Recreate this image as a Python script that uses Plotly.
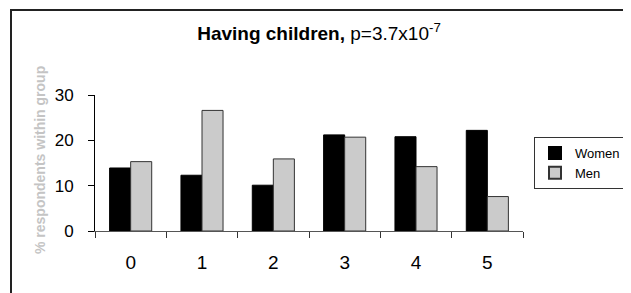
import plotly.graph_objects as go

categories = ["0", "1", "2", "3", "4", "5"]
women = [13.9, 12.3, 10.1, 21.2, 20.8, 22.2]
men = [15.3, 26.6, 15.9, 20.7, 14.2, 7.6]
y_ticks = [0, 10, 20, 30]

OFF = 8  # default page margin of the html body
W, H = 631 - OFF, 293 - OFF
L, T = 95 - OFF, 95 - OFF
R = W - (523 - OFF)
B = H - (231 - OFF)
pw, ph = W - L - R, H - T - B

def px_x(px):
    return (px - OFF - L) / pw

def px_y(py):
    return (H - B - (py - OFF)) / ph

fig = go.Figure()
fig.add_trace(go.Bar(x=categories, y=women, name="Women",
                     marker=dict(color="#000000", line=dict(color="#000000", width=1))))
fig.add_trace(go.Bar(x=categories, y=men, name="Men",
                     marker=dict(color="#cbcbcb", line=dict(color="#333333", width=1))))

fig.update_layout(
    width=W, height=H,
    margin=dict(l=L, r=R, t=T, b=B, autoexpand=False),
    paper_bgcolor="white", plot_bgcolor="white",
    barmode="group", bargap=0.41, bargroupgap=0,
    font=dict(family="Liberation Sans, Arial, sans-serif", color="#000000"),
    title=dict(text="<b>Having children,</b> p=3.7x10<sup>-7</sup>",
               x=px_x(319), xref="paper", xanchor="center",
               y=1 - (33 - OFF) / H, yanchor="middle", font=dict(size=19)),
    legend=dict(x=px_x(534), y=px_y(137), xanchor="left", yanchor="top",
                bordercolor="#333333", borderwidth=1, bgcolor="white",
                font=dict(size=13), tracegroupgap=0, itemwidth=30,
                itemsizing="constant"),
    showlegend=True,
)
fig.update_xaxes(
    type="category", showline=True, linecolor="#555555", linewidth=1,
    ticks="outside", ticklen=6, tickcolor="#333333", tickson="boundaries",
    showgrid=False, tickfont=dict(size=19), ticklabelstandoff=14,
)
fig.update_yaxes(
    range=[0, 30], tickvals=y_ticks, showline=True, linecolor="#000000", linewidth=1,
    ticks="outside", ticklen=6, tickcolor="#000000", showgrid=False, zeroline=False,
    tickfont=dict(size=17), ticklabelstandoff=11,
)
fig.add_annotation(text="<b>% respondents within group</b>", xref="paper", yref="paper",
                   x=px_x(40), y=px_y(160), textangle=-90, showarrow=False,
                   xanchor="center", yanchor="middle",
                   font=dict(size=14, color="#c4c4c4"))
fig.add_shape(type="rect", xref="paper", yref="paper",
              x0=px_x(11), x1=px_x(650), y0=px_y(10), y1=px_y(310),
              line=dict(color="#222222", width=2), fillcolor="rgba(0,0,0,0)", layer="above")

fig.write_html("out.html")
